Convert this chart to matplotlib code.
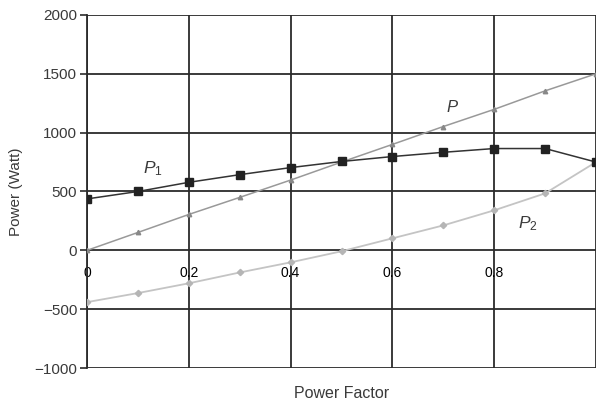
import matplotlib
matplotlib.use("Agg")
import matplotlib.pyplot as plt

pf = [0.0, 0.1, 0.2, 0.3, 0.4, 0.5, 0.6, 0.7, 0.8, 0.9, 1.0]
p_total = [0, 152, 305, 450, 597, 750, 900, 1052, 1198, 1355, 1500]
p1 = [437, 500, 578, 643, 703, 755, 797, 833, 865, 865, 750]
p2 = [-440, -363, -280, -188, -102, -8, 102, 212, 340, 484, 750]

yticks = [-1000, -500, 0, 500, 1000, 1500, 2000]
ytick_labels = ["\u22121000", "\u2212500", "0", "500", "1000", "1500", "2000"]
xticks = [0, 0.2, 0.4, 0.6, 0.8]
xtick_labels = ["0", "0.2", "0.4", "0.6", "0.8"]

plt.rcParams['font.family'] = ['Liberation Sans', 'DejaVu Sans']
plt.rcParams['mathtext.fontset'] = 'custom'
plt.rcParams['mathtext.rm'] = 'Liberation Sans'
plt.rcParams['mathtext.it'] = 'Liberation Sans:italic'

fig = plt.figure(figsize=(5.96, 4.04), dpi=100)
ax = fig.add_axes([0.146, 0.089, 0.854, 0.874])

grid_c = '#2b2b2b'
txt_c = '#3a3a3a'
for y in yticks:
    ax.axhline(y, color=grid_c, lw=1.3, zorder=1)
for x in xticks + [1.0]:
    ax.axvline(x, color=grid_c, lw=1.3, zorder=1)

ax.plot(pf, p_total, color='#999999', lw=1.1, marker='^', ms=3.2, mfc='#888888', mec='#888888', zorder=3)
ax.plot(pf, p2, color='#c4c4c4', lw=1.3, marker='D', ms=3.2, mfc='#b5b5b5', mec='#b5b5b5', zorder=3)
ax.plot(pf, p1, color='#333333', lw=1.1, marker='s', ms=5.2, mfc='#222222', mec='#222222', zorder=4)

ax.set_xlim(0, 1.0)
ax.set_ylim(-1000, 2000)
ax.set_yticks(yticks)
ax.set_yticklabels(ytick_labels, fontsize=11, color=txt_c)
ax.tick_params(axis='y', length=5, width=1.2, color=grid_c, pad=2)

ax.set_xticks(xticks)
ax.set_xticklabels(xtick_labels, fontsize=11, color=txt_c)
ax.spines['bottom'].set_position(('data', 0))
ax.tick_params(axis='x', length=0, pad=11)

for s in ['top', 'right', 'bottom']:
    ax.spines[s].set_visible(False)
ax.spines['left'].set_color(grid_c)
ax.spines['left'].set_linewidth(1.3)

ax.set_ylabel("Power (Watt)", fontsize=11, color=txt_c, labelpad=8)
fig.text(0.573, 0.025, "Power Factor", fontsize=11.5, color=txt_c, ha='center', va='center')

ax.text(0.717, 1215, "P", fontsize=12, style='italic', color=txt_c, ha='center', va='center')
ax.text(0.13, 695, "$P_1$", fontsize=12.5, color=txt_c, ha='center', va='center')
ax.text(0.866, 230, "$P_2$", fontsize=12.5, color=txt_c, ha='center', va='center')

fig.savefig("out.png", dpi=100)
